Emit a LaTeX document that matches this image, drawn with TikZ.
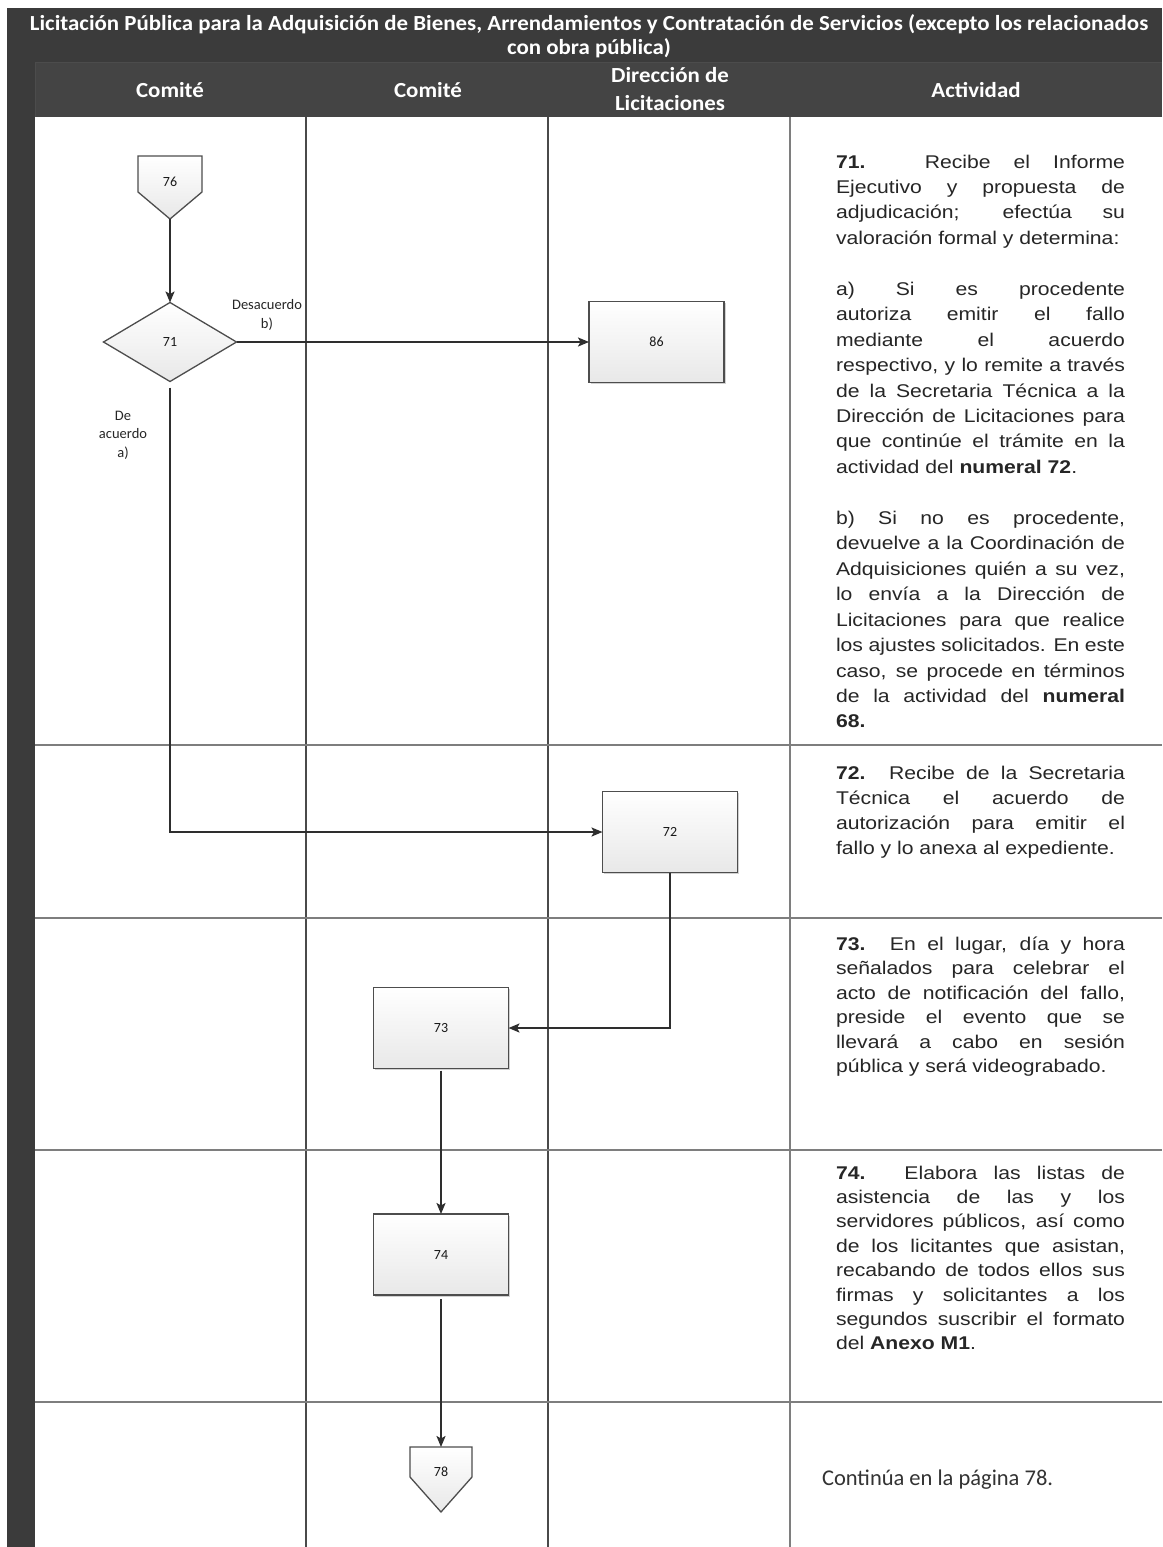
\documentclass[tikz,border=0pt]{standalone}
\usepackage{fontspec}
\usepackage{graphicx}
\setmainfont{Liberation Sans}
\newfontfamily\calib{Carlito}
\usetikzlibrary{shapes.geometric,arrows.meta,shadows,calc}

\definecolor{hdrdark}{HTML}{3B3B3B}
\definecolor{hdrrow}{HTML}{444444}
\definecolor{gridline}{HTML}{4A4A4A}
\definecolor{rulegray}{HTML}{7E7E7E}
\definecolor{inkc}{HTML}{2E2E2E}
\definecolor{boxedge}{HTML}{4D4D4D}
\definecolor{boxfoot}{HTML}{E8E8E8}
\definecolor{bodytext}{HTML}{262626}

% one justified line / one ragged (last) line of an activity description
\newcommand\actj[1]{\makebox[\linewidth][s]{#1}\par}
\newcommand\actl[1]{\makebox[\linewidth][l]{#1}\par}
\newcommand\actgap{\mbox{}\par}
% activity block: #1 = line spacing, #2 = lines
\newcommand\actblock[2]{\scalebox{1.15}[1]{\parbox[t]{251.3pt}{\fontsize{18.4}{#1}\selectfont #2}}}
% header lettering, slightly widened
\newcommand\hdrwide[1]{\scalebox{1.065}[1]{#1}}

\begin{document}
\begin{tikzpicture}[x=1pt,y=-1pt,
  every node/.style={inner sep=0pt,outer sep=0pt},
  hdrtext/.style={text=white,font=\calib\bfseries\fontsize{21.5}{24}\selectfont},
  lanerule/.style={draw=gridline,line width=1.2pt},
  actrule/.style={draw=rulegray,line width=2.4pt},
  rowrule/.style={draw=rulegray,line width=2.6pt},
  boxshade/.style={top color=white,bottom color=boxfoot},
  procbox/.style={rectangle,boxshade,draw=boxedge,line width=1.3pt,
    minimum width=135pt,minimum height=81pt,
    font=\calib\fontsize{14}{16}\selectfont,text=black!90,
    drop shadow={shadow xshift=1.6pt,shadow yshift=-1.6pt,opacity=0.18,fill=black}},
  decision/.style={diamond,boxshade,draw=boxedge,line width=1.3pt,
    minimum width=133pt,minimum height=79pt,aspect=1.68,
    font=\calib\fontsize{14}{16}\selectfont,text=black!90},
  offpage/.style={boxshade,draw=boxedge,line width=1.3pt},
  numlabel/.style={font=\calib\fontsize{14}{16}\selectfont,text=black!90},
  connector/.style={draw=inkc,line width=2pt,-{Stealth[length=11pt,width=9pt,inset=2.5pt]}},
  flowlabel/.style={font=\calib\fontsize{14.5}{18.5}\selectfont,text=black!85,align=center},
  acttext/.style={anchor=base west,text=bodytext},
]
% page frame
\useasboundingbox (0,0) rectangle (1162,1547);
\fill[white] (0,0) rectangle (1162,1547);

% dark title band and left bar
\fill[hdrdark] (7,8) rectangle (1162,117);
\fill[hdrdark] (7,117) rectangle (35,1547);
\fill[hdrrow] (35,62) rectangle (1162,117);
\draw[black!70,line width=0.8pt] (35,62) -- (1162,62);
\draw[black!70,line width=0.8pt] (35,62) -- (35,117);

% titles
\node[hdrtext,anchor=base] (title1) at (589,30) {\hdrwide{Licitación Pública para la Adquisición de Bienes, Arrendamientos y Contratación de Servicios (excepto los relacionados}};
\node[hdrtext,anchor=base] (title2) at (589,54) {\hdrwide{con obra pública)}};
\node[hdrtext,anchor=base] (h1) at (170,97) {\hdrwide{Comité}};
\node[hdrtext,anchor=base] (h2) at (428,97) {\hdrwide{Comité}};
\node[hdrtext,anchor=base] (h3a) at (670,82) {\hdrwide{Dirección de}};
\node[hdrtext,anchor=base] (h3b) at (670,110) {\hdrwide{Licitaciones}};
\node[hdrtext,anchor=base] (h4) at (976,97) {\hdrwide{Actividad}};

% swimlane grid
\draw[lanerule] (306,117) -- (306,1547);
\draw[lanerule] (548,117) -- (548,1547);
\draw[actrule] (790,117) -- (790,1547);
\foreach \yy in {745,918,1150,1402}
  \draw[rowrule] (35,\yy) -- (1162,\yy);

% off-page connector 76
\path[offpage] (138,156) -- (202,156) -- (202,192) -- (170,219) -- (138,192) -- cycle;
\node[numlabel] (c76) at (170,182) {76};
\coordinate (c76tip) at (170,219);

% decision 71
\node[decision] (d71) at (170,342) {71};
\node[flowlabel] (lblb) at (267,315) {Desacuerdo\\b)};
\node[flowlabel] (lbla) at (123,435) {De\\acuerdo\\a)};

% process boxes
\node[procbox] (b86) at (656.5,342) {86};
\node[procbox] (b72) at (670,832) {72};
\node[procbox] (b73) at (441,1028) {73};
\node[procbox] (b74) at (441,1254.5) {74};

% off-page connector 78
\path[offpage] (410,1447) -- (472,1447) -- (472,1477) -- (441,1512) -- (410,1477) -- cycle;
\node[numlabel] (c78) at (441,1472) {78};
\coordinate (c78top) at (441,1447);

% flow
\draw[connector] (c76tip) -- (d71.north);
\draw[connector] (d71.east) -- (b86.west);
\draw[connector,shorten <=6pt] (d71.south) |- (b72.west);
\draw[connector] (b72.south) |- (b73.east);
\draw[connector,shorten <=2pt] (b73.south) -- (b74.north);
\draw[connector,shorten <=4pt] (b74.south) -- (c78top);

% activity descriptions
\node[acttext] (a71) at (836,168) {\actblock{25.45pt}{%
\actj{\textbf{71.} Recibe el Informe}
\actj{Ejecutivo y propuesta de}
\actj{adjudicación; efectúa su}
\actl{valoración formal y determina:}
\actgap
\actj{a) Si es procedente}
\actj{autoriza emitir el fallo}
\actj{mediante el acuerdo}
\actj{respectivo, y lo remite a través}
\actj{de la Secretaria Técnica a la}
\actj{Dirección de Licitaciones para}
\actj{que continúe el trámite en la}
\actl{actividad del \textbf{numeral 72}.}
\actgap
\actj{b) Si no es procedente,}
\actj{devuelve a la Coordinación de}
\actj{Adquisiciones quién a su vez,}
\actj{lo envía a la Dirección de}
\actj{Licitaciones para que realice}
\actj{los ajustes solicitados. En este}
\actj{caso, se procede en términos}
\actj{de la actividad del \textbf{numeral}}
\actl{\textbf{68.}}}};

\node[acttext] (a72) at (836,779) {\actblock{25pt}{%
\actj{\textbf{72.} Recibe de la Secretaria}
\actj{Técnica el acuerdo de}
\actj{autorización para emitir el}
\actl{fallo y lo anexa al expediente.}}};

\node[acttext] (a73) at (836,950) {\actblock{24.5pt}{%
\actj{\textbf{73.} En el lugar, día y hora}
\actj{señalados para celebrar el}
\actj{acto de notificación del fallo,}
\actj{preside el evento que se}
\actj{llevará a cabo en sesión}
\actl{pública y será videograbado.}}};

\node[acttext] (a74) at (836,1179) {\actblock{24.4pt}{%
\actj{\textbf{74.} Elabora las listas de}
\actj{asistencia de las y los}
\actj{servidores públicos, así como}
\actj{de los licitantes que asistan,}
\actj{recabando de todos ellos sus}
\actj{firmas y solicitantes a los}
\actj{segundos suscribir el formato}
\actl{del \textbf{Anexo M1}.}}};

\node[anchor=base west,text=black!80,font=\calib\fontsize{22.5}{26}\selectfont] (cont) at (822,1485) {Continúa en la página 78.};
\end{tikzpicture}
\end{document}
